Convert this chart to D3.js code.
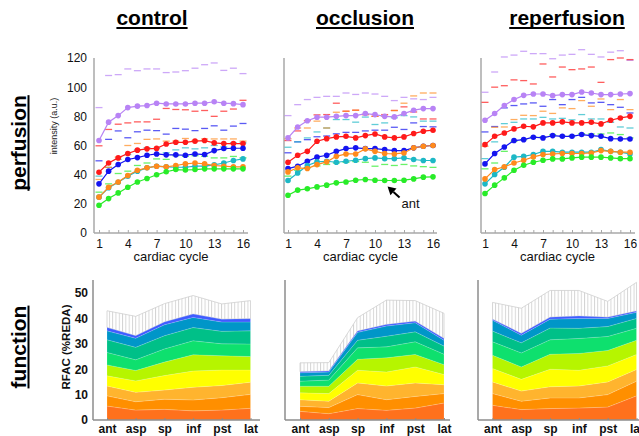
<!DOCTYPE html>
<html><head><meta charset="utf-8">
<script src="https://cdn.jsdelivr.net/npm/d3@7"></script>
<style>body{margin:0;background:#fff}svg{display:block;font-family:"Liberation Sans",Arial,Helvetica,sans-serif}</style>
</head><body><script>
// ---------- categories / ticks ----------
const cycles = [1,2,3,4,5,6,7,8,9,10,11,12,13,14,15,16];
const cycleTickLabels = [1,4,7,10,13,16];
const segments = ["ant","asp","sp","inf","pst","lat"];
const yTicksTop = [0,20,40,60,80,100,120];
const yTicksBottom = [0,10,20,30,40,50];
const panelTitles = ["control","occlusion","reperfusion"];
const seriesColors = ["#b883f5","#ff1a1a","#1414f0","#1db8c6","#ff8a1c","#28ec28"];
const layerColors = ["#ff711c","#ff8f00","#ffb42e","#ffff00","#b6f500","#0ee06e","#00c088","#0096c8","#3f5cff"];

// ---------- perfusion: control ----------
const ctrlLavender = [63.4,76,80.5,86,87,87.4,89,88.5,88.5,88.5,89,89,90,89,88.7,88];
const ctrlRed      = [41.7,48,51.5,54.5,56.8,57.7,58,61,62.2,62.2,63,63.4,61.8,61.3,61.3,61.3];
const ctrlBlue     = [33.7,42.4,47,50.4,51.7,53.3,54.2,53.6,53.6,53.3,54.2,53.8,56.5,57.9,58.1,58.1];
const ctrlTeal     = [24.6,31,34.8,39,42.4,44.7,45.8,45.4,45.1,45.1,45.8,45.8,46.7,48,49.7,50.8];
const ctrlOrange   = [24.6,31.4,35,39.4,43,44.7,45.8,45.4,46.3,47.4,48,47.4,46.3,45.8,45.4,45.4];
const ctrlGreen    = [19,23.6,27.5,31.4,35,37.4,39.9,42,43.5,43.2,43.5,44,44,44,44,44];
const ctrlLavenderDash = [86,108,108.6,112.5,111.3,112.5,112.5,110,110.4,111.3,113,115.4,116.6,111.5,113,109.3];
const ctrlRedDash      = [59.8,71,74.6,75.5,76.2,76.2,78,85.4,84.7,84.5,83.5,84,80,83.5,85,91];
const ctrlBlueDash     = [49.5,64.2,70,65.3,69.4,70.5,70.2,67.8,71.7,71.2,70.2,71.7,73.5,70.5,73.3,75.1];
const ctrlTealDash     = [39,45,50.5,53.8,57,58.4,58,55,57,58.4,57.7,58.4,60,59,61.8,61.8];
const ctrlOrangeDash   = [36.7,45,52,60,61.4,64.2,64.5,63,63,64.8,63.4,64.5,64.5,64.5,64.5,63];
const ctrlGreenDash    = [28,33.7,40.8,42.4,46.3,48,50.8,50.5,53,52.6,53,52.6,51.5,51.5,52.5,51.5];

// ---------- perfusion: occlusion ----------
const occLavender = [65.2,72.7,77,79.4,79.4,80,80.5,80.5,81.9,81.2,80,79.6,81.9,84.2,85.3,85.3];
const occRed      = [48.5,53.3,56,62.9,64.7,65.9,66.3,65.2,66.8,67.9,65.9,65.2,65.9,68.2,69.8,70.5];
const occBlue     = [44.2,45.8,49.2,52,53.3,56,57.9,58.4,57.9,57.9,57.2,56.5,56.5,58.4,59.5,60];
const occTeal     = [36,41.2,46.3,48.8,49.2,48.5,49.2,49.9,51,51.5,51,51,51.5,50.4,49.7,49.7];
const occOrange   = [41.9,44.7,44.2,46.9,48.8,52.6,54.2,54.2,57.7,56,54.5,54.2,54.9,58.4,59.5,60];
const occGreen    = [25.9,29.4,30.3,31.6,32.8,34.4,35,36.2,36.7,36.2,36,36,36.2,37.1,38.3,38.5];
const occLavenderDash = [80.5,88,91.5,93,93.7,93.7,96,95,96,95.3,93.7,90.8,93,92,91.5,93];
const occRedDash      = [63.4,70,77,81,81.2,89,83.5,84.2,81.2,80,81.2,84,86.5,83,78.2,78.2];
const occBlueDash     = [55,62.5,64,66,66.5,68,69,69,70,70.5,70.5,72.5,71,75.5,73,72.8];
const occTealDash     = [58.8,62.5,65.2,69.3,72,77.8,77.8,76,79.5,74.4,75.5,79,80.5,79.6,76.7,76.7];
const occOrangeDash   = [64.7,72,72,76.7,72,82.8,83.5,84.2,81.2,80,80,84,89,94,96,96];
const occGreenDash    = [39,43,44.7,46,47,48,48.5,49,48.5,45.8,47,46.3,47,46,45.5,45];

// ---------- perfusion: reperfusion ----------
const repLavender = [77.3,81.9,87.4,91.5,94.4,95.3,95.3,94.2,94.9,94.9,96.7,96,94.9,94.9,95.3,95.6];
const repRed      = [60.6,66.3,68.6,71.4,73.2,72.8,75.5,75.5,76.2,75.5,75.5,75.9,74.8,77.3,78.9,80];
const repBlue     = [47.4,54.5,59,63.4,64,65.7,65.2,66.8,66.3,66.3,67.5,66.8,66.3,64.7,64.5,64.5];
const repTeal     = [33.7,40.1,45.1,52,52.6,53.8,56,56,55.4,55.4,55.4,55.4,57.2,56,55.4,54.2];
const repOrange   = [37.1,43.5,45.4,48,49.9,52.2,53.8,54.2,54.5,54.5,54.5,54.9,56.5,56,55.4,55.4];
const repGreen    = [27.1,32.8,37.8,43,46.5,48.5,49.9,50.8,50.8,51.5,52,52,52,51.5,51,51];
const repLavenderDash = [96.5,110.4,120.7,122,124.6,123,123,119.5,122,122.5,125.7,122.5,120.7,124,125,118.4];
const repRedDash      = [89.6,100,101,105,104.5,102.2,115.9,107,113.8,112,112.5,113.8,103.3,118.9,120,118.9];
const repBlueDash     = [69.3,73,85.8,87.4,88.5,89.2,86.9,91.5,88,91.5,93,89.2,89.6,88,86.2,82.3];
const repTealDash     = [51,62.5,75,75.9,78.2,78.2,79.3,78.2,78.6,77.6,81.2,78.2,78.2,75.9,72.7,72];
const repOrangeDash   = [59.5,72.5,72.7,77.8,80.7,80.5,83.5,82,85.8,85.3,90.8,86.9,91.9,84.6,91.5,84.6];
const repGreenDash    = [44,48,56,62.9,64,65.7,65.9,67.5,66.3,66.8,68.1,67.9,67.9,68.6,67.5,65.2];

// ---------- function (RFAC layers, bottom to top) ----------
const ctrlLayer1 = [5.5,3.9,4.2,3.6,3.9,4.6];
const ctrlLayer2 = [4.0,3.3,4.0,4.3,4.9,5.5];
const ctrlLayer3 = [3.9,3.7,3.6,5.0,4.8,4.8];
const ctrlLayer4 = [4.0,4.5,5.7,6.4,6.1,4.8];
const ctrlLayer5 = [4.3,4.1,5.3,6.4,5.6,5.3];
const ctrlLayer6 = [4.9,4.2,5.2,5.5,4.7,4.9];
const ctrlLayer7 = [5.0,4.9,5.2,5.2,4.9,5.2];
const ctrlLayer8 = [3.5,3.6,4.3,4.0,3.7,3.5];
const ctrlLayer9 = [1.3,1.0,1.1,1.3,1.1,1.3];
const ctrlMax    = [43,40.8,45.8,49,45.7,47];

const occLayer1 = [3.4,2.5,4.5,3.8,4.7,6.7];
const occLayer2 = [2.0,2.4,5.5,4.2,4.6,3.7];
const occLayer3 = [2.6,2.5,4.6,5.4,5.3,3.5];
const occLayer4 = [2.7,3.0,5.0,5.5,6.3,4.0];
const occLayer5 = [2.6,2.9,4.3,5.6,4.9,3.9];
const occLayer6 = [2.0,2.4,4.5,4.3,5.0,4.1];
const occLayer7 = [1.9,1.9,3.0,4.2,3.9,3.2];
const occLayer8 = [1.4,1.3,3.1,4.0,3.6,2.3];
const occLayer9 = [0.4,0.4,0.5,0.6,0.6,0.7];
const occMax    = [22.5,22.6,40.3,47.2,47,42];

const repLayer1 = [5.8,4.1,4.5,4.7,5.1,9.5];
const repLayer2 = [4.6,3.3,4.2,4.0,4.9,5.8];
const repLayer3 = [4.6,4.0,4.4,4.7,5.0,4.6];
const repLayer4 = [5.3,4.6,6.9,6.2,6.3,5.9];
const repLayer5 = [5.2,4.9,5.9,6.6,6.1,5.6];
const repLayer6 = [5.3,5.5,5.7,5.9,5.5,4.7];
const repLayer7 = [4.2,4.0,4.6,4.0,3.9,3.9];
const repLayer8 = [4.3,3.0,3.5,3.9,3.2,2.4];
const repLayer9 = [0.4,0.7,0.8,0.9,0.5,0.5];
const repMax    = [46.3,44,51,51,46.7,54.2];

// ---------- assemble ----------
const topData = [
  {lines:[ctrlLavender,ctrlRed,ctrlBlue,ctrlTeal,ctrlOrange,ctrlGreen],
   dashes:[ctrlLavenderDash,ctrlRedDash,ctrlBlueDash,ctrlTealDash,ctrlOrangeDash,ctrlGreenDash]},
  {lines:[occLavender,occRed,occBlue,occTeal,occOrange,occGreen],
   dashes:[occLavenderDash,occRedDash,occBlueDash,occTealDash,occOrangeDash,occGreenDash]},
  {lines:[repLavender,repRed,repBlue,repTeal,repOrange,repGreen],
   dashes:[repLavenderDash,repRedDash,repBlueDash,repTealDash,repOrangeDash,repGreenDash]}
];
const bottomData = [
  {layers:[ctrlLayer1,ctrlLayer2,ctrlLayer3,ctrlLayer4,ctrlLayer5,ctrlLayer6,ctrlLayer7,ctrlLayer8,ctrlLayer9], max:ctrlMax},
  {layers:[occLayer1,occLayer2,occLayer3,occLayer4,occLayer5,occLayer6,occLayer7,occLayer8,occLayer9], max:occMax},
  {layers:[repLayer1,repLayer2,repLayer3,repLayer4,repLayer5,repLayer6,repLayer7,repLayer8,repLayer9], max:repMax}
];

// ---------- layout ----------
const topLayout = [
  {axisX:94, r0:99, r1:243, end:248, titleX:152},
  {axisX:284, r0:288, r1:433, end:437, titleX:365},
  {axisX:481, r0:485, r1:630, end:635, titleX:567}
];
const botLayout = [
  {axisX:93, r0:107, r1:250.5, end:260},
  {axisX:285, r0:300, r1:444, end:450},
  {axisX:478, r0:492.5, r1:636.5, end:650}
];
const topY = d3.scaleLinear().domain([0,120]).range([233,58]);
const botY = d3.scaleLinear().domain([0,50]).range([420,293]);
const topAxisColor = "#a8a8a8", botAxisColor = "#8c8c8c";

const svg = d3.select("body").append("svg").attr("width",639).attr("height",436);
const defs = svg.append("defs");
const pat = defs.append("pattern").attr("id","hatch").attr("patternUnits","userSpaceOnUse")
  .attr("width",3.3).attr("height",10);
pat.append("rect").attr("width",3.3).attr("height",10).attr("fill","#fff");
pat.append("line").attr("x1",0.5).attr("x2",0.5).attr("y1",0).attr("y2",10)
  .attr("stroke","#c9c9c9").attr("stroke-width",0.8);

// titles
function underlinedText(g, txt, x, y, size, rotate){
  const grp = g.append("g").attr("transform", `translate(${x},${y})` + (rotate ? " rotate(-90)" : ""));
  const t = grp.append("text").attr("text-anchor","middle").attr("font-weight","bold")
    .attr("font-size",size).attr("fill","#000").text(txt);
  const w = t.node().getComputedTextLength();
  grp.append("line").attr("x1",-w/2).attr("x2",w/2).attr("y1",3).attr("y2",3)
    .attr("stroke","#000").attr("stroke-width",2);
}
panelTitles.forEach((t,i)=>underlinedText(svg,t,topLayout[i].titleX,25,21,false));
underlinedText(svg,"perfusion",25.5,143,21,true);
underlinedText(svg,"function",25.5,347,21,true);

// ---------- top panels ----------
topData.forEach((pd,i)=>{
  const L = topLayout[i];
  const x = d3.scaleLinear().domain([1,16]).range([L.r0,L.r1]);
  const g = svg.append("g");
  g.append("line").attr("x1",L.axisX).attr("x2",L.axisX).attr("y1",topY(120)).attr("y2",topY(0))
    .attr("stroke",topAxisColor).attr("stroke-width",1.5);
  g.append("line").attr("x1",L.axisX).attr("x2",L.end).attr("y1",topY(0)).attr("y2",topY(0))
    .attr("stroke",topAxisColor).attr("stroke-width",1.5);
  const xa = g.append("g").attr("transform",`translate(0,${topY(0)})`)
    .call(d3.axisBottom(x).tickValues(cycles).tickSize(-3).tickPadding(6)
      .tickFormat(d=>cycleTickLabels.includes(d)?d:""));
  xa.select(".domain").remove();
  xa.selectAll(".tick line").attr("stroke",topAxisColor);
  xa.selectAll("text").attr("font-size",12).attr("fill","#111").attr("font-family",null);
  if(i===0){
    const ya = g.append("g").attr("transform",`translate(${L.axisX},0)`)
      .call(d3.axisLeft(topY).tickValues(yTicksTop).tickSize(0).tickPadding(7));
    ya.select(".domain").remove();
    ya.selectAll("text").attr("font-size",12).attr("fill","#111").attr("font-family",null);
    g.append("text").attr("transform",`translate(57,126) rotate(-90)`).attr("text-anchor","middle")
      .attr("font-size",9).attr("fill","#222").text("intensity (a.u.)");
  }
  g.append("text").attr("x",(L.r0+L.r1)/2).attr("y",261).attr("text-anchor","middle")
    .attr("font-size",13).attr("fill","#111").text("cardiac cycle");
  pd.dashes.forEach((arr,s)=>{
    g.append("g").selectAll("line").data(arr).join("line")
      .attr("x1",(d,k)=>x(cycles[k])-3.5).attr("x2",(d,k)=>x(cycles[k])+3.5)
      .attr("y1",d=>topY(d)).attr("y2",d=>topY(d))
      .attr("stroke",seriesColors[s]).attr("stroke-opacity",0.7).attr("stroke-width",1.3);
  });
  const line = d3.line().x((d,k)=>x(cycles[k])).y(d=>topY(d));
  pd.lines.forEach((arr,s)=>{
    g.append("path").attr("d",line(arr)).attr("fill","none")
      .attr("stroke",seriesColors[s]).attr("stroke-width",1.2);
    g.append("g").selectAll("circle").data(arr).join("circle")
      .attr("cx",(d,k)=>x(cycles[k])).attr("cy",d=>topY(d)).attr("r",2.8)
      .attr("fill",seriesColors[s]);
  });
  if(i===1){
    const tx = x(11.3), ty = topY(occGreen[10]) + 6;
    const ex = tx + 12, ey = ty + 11;
    const ang = Math.atan2(ty-ey, tx-ex);
    const hl = 8, hw = 4.5;
    const bx = tx - hl*Math.cos(ang), by = ty - hl*Math.sin(ang);
    g.append("line").attr("x1",ex).attr("y1",ey).attr("x2",bx).attr("y2",by)
      .attr("stroke","#000").attr("stroke-width",2);
    g.append("path").attr("d",`M${tx},${ty}L${bx+hw*Math.sin(ang)},${by-hw*Math.cos(ang)}L${bx-hw*Math.sin(ang)},${by+hw*Math.cos(ang)}Z`)
      .attr("fill","#000");
    g.append("text").attr("x",ex+2).attr("y",ey+10).attr("font-size",13).attr("fill","#111").text("ant");
  }
});

// ---------- bottom panels ----------
bottomData.forEach((bd,i)=>{
  const L = botLayout[i];
  const x = d3.scalePoint().domain(segments).range([L.r0,L.r1]);
  const g = svg.append("g");
  const rows = segments.map((s,k)=>{
    const r = {seg:s, max:bd.max[k]};
    bd.layers.forEach((arr,j)=>r["l"+j]=arr[k]);
    return r;
  });
  const keys = bd.layers.map((_,j)=>"l"+j);
  const series = d3.stack().keys(keys)(rows);
  const area = d3.area().x(d=>x(d.data.seg)).y0(d=>botY(d[0])).y1(d=>botY(d[1]));
  const top = series[series.length-1];
  const hatch = d3.area().x(d=>x(d.data.seg)).y0(d=>botY(d[1])).y1(d=>botY(d.data.max));
  g.append("path").attr("d",hatch(top)).attr("fill","url(#hatch)")
    .attr("stroke","#cfcfcf").attr("stroke-width",0.8);
  g.selectAll("path.layer").data(series).join("path").attr("class","layer")
    .attr("d",area).attr("fill",(d,j)=>layerColors[j])
    .attr("stroke","#fff").attr("stroke-opacity",0.3).attr("stroke-width",0.5);
  g.append("line").attr("x1",L.axisX).attr("x2",L.axisX).attr("y1",280).attr("y2",botY(0))
    .attr("stroke",botAxisColor).attr("stroke-width",1.5);
  g.append("line").attr("x1",L.axisX).attr("x2",L.end).attr("y1",botY(0)).attr("y2",botY(0))
    .attr("stroke",botAxisColor).attr("stroke-width",1.5);
  const xa = g.append("g").attr("transform",`translate(0,${botY(0)})`)
    .call(d3.axisBottom(x).tickSize(-2).tickPadding(4));
  xa.select(".domain").remove();
  xa.selectAll(".tick line").attr("stroke",botAxisColor);
  xa.selectAll("text").attr("font-size",12).attr("font-weight","bold").attr("fill","#111").attr("font-family",null);
  if(i===0){
    const ya = g.append("g").attr("transform",`translate(${L.axisX},0)`)
      .call(d3.axisLeft(botY).tickValues(yTicksBottom).tickSize(0).tickPadding(5));
    ya.select(".domain").remove();
    ya.selectAll("text").attr("font-size",12).attr("font-weight","bold").attr("fill","#111").attr("font-family",null);
    g.append("text").attr("transform",`translate(70,347) rotate(-90)`).attr("text-anchor","middle")
      .attr("font-size",11.5).attr("font-weight","bold").attr("fill","#111").text("RFAC (%REDA)");
  }
});
</script></body></html>
